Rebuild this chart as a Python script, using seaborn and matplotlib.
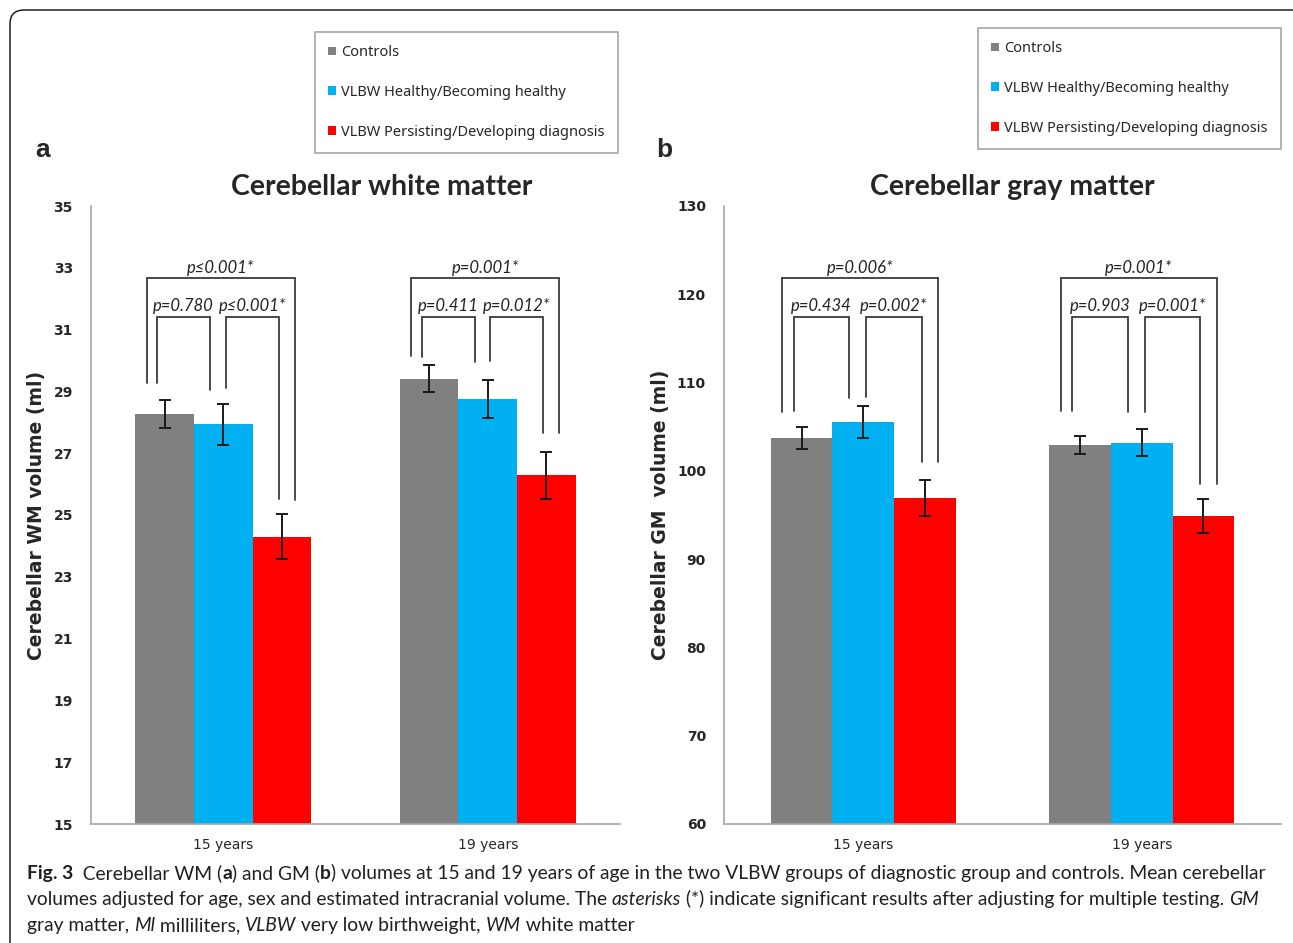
import pandas as pd
import seaborn as sns
import matplotlib.pyplot as plt
from matplotlib.patches import Patch, FancyBboxPatch
from matplotlib.transforms import IdentityTransform

# Categories
ages = ["15 years", "19 years"]
groups = ["Controls", "VLBW Healthy/Becoming healthy", "VLBW Persisting/Developing diagnosis"]
colors = ["#808080", "#00B0F0", "#FF0000"]

# Cerebellar white matter (ml), 15 and 19 years
wm_controls = [28.26, 29.41]
wm_healthy = [27.94, 28.76]
wm_persist = [24.30, 26.29]
wm_err_controls = [0.45, 0.43]
wm_err_healthy = [0.66, 0.62]
wm_err_persist = [0.73, 0.76]

# Cerebellar gray matter (ml), 15 and 19 years
gm_controls = [103.75, 102.93]
gm_healthy = [105.55, 103.20]
gm_persist = [96.89, 94.92]
gm_err_controls = [1.25, 1.07]
gm_err_healthy = [1.85, 1.57]
gm_err_persist = [2.04, 1.92]

# p-values: controls vs healthy, healthy vs persisting, controls vs persisting
wm_p = [["p=0.780", "p≤0.001*", "p≤0.001*"],
        ["p=0.411", "p=0.012*", "p=0.001*"]]
gm_p = [["p=0.434", "p=0.002*", "p=0.006*"],
        ["p=0.903", "p=0.001*", "p=0.001*"]]

W, H = 1293, 943
fig = plt.figure(figsize=(W / 100, H / 100), dpi=100)
sns.set_style("white")
plt.rcParams['font.family'] = ['DejaVu Sans']

label_font = ['Noto Sans', 'DejaVu Sans']
p_font = ['Lato', 'DejaVu Sans']
cap_font = ['Lato', 'DejaVu Sans']


def long_df(ctrl, healthy, persist):
    rows = []
    for g, vals in zip(groups, [ctrl, healthy, persist]):
        for a, v in zip(ages, vals):
            rows.append({"age": a, "group": g, "value": v})
    return pd.DataFrame(rows)


def brackets(ax, pvals, inner_top, outer_top, legs):
    # leg x offsets from the category centre (category units)
    dx = [-0.29, -0.25, -0.05, 0.01, 0.21, 0.27]
    kw = dict(color="#3a3a3a", lw=1.3, solid_joinstyle="miter")
    for i in range(len(ages)):
        xs = [i + d for d in dx]
        lb = legs[i]
        ax.plot([xs[1], xs[1], xs[2], xs[2]], [lb[1], inner_top, inner_top, lb[2]], **kw)
        ax.plot([xs[3], xs[3], xs[4], xs[4]], [lb[3], inner_top, inner_top, lb[4]], **kw)
        ax.plot([xs[0], xs[0], xs[5], xs[5]], [lb[0], outer_top, outer_top, lb[5]], **kw)
        for (xa, xb), yy, txt in [((xs[1], xs[2]), inner_top, pvals[i][0]),
                                  ((xs[3], xs[4]), inner_top, pvals[i][1]),
                                  ((xs[0], xs[5]), outer_top, pvals[i][2])]:
            ax.annotate(txt, ((xa + xb) / 2, yy), xytext=(0, 2), textcoords="offset points",
                        ha="center", va="bottom", fontsize=12, fontstyle="italic",
                        family=p_font, color="#222222")


def panel(rect, df, errs, ylim, yticks, title, title_x, ylabel):
    ax = fig.add_axes(rect)
    sns.barplot(data=df, x="age", y="value", hue="group", hue_order=groups,
                palette=colors, width=0.665, saturation=1, errorbar=None,
                linewidth=0, legend=False, ax=ax)
    for cont, err in zip(ax.containers, errs):
        xs = [b.get_x() + b.get_width() / 2 for b in cont]
        ys = [b.get_height() for b in cont]
        ax.errorbar(xs, ys, yerr=err, fmt="none", ecolor="#1a1a1a",
                    elinewidth=1.4, capsize=4, capthick=1.4)
    ax.set_ylim(*ylim)
    ax.set_yticks(yticks)
    ax.set_xlim(-0.5, 1.5)
    ax.set_xticks([-0.5, 0.5, 1.5], minor=True)
    ax.tick_params(axis="x", which="major", length=0, labelsize=10, pad=10)
    ax.tick_params(axis="x", which="minor", length=6, width=1.2, color="#A6A6A6", direction="out")
    ax.tick_params(axis="y", length=5, width=1.2, color="#A6A6A6", direction="out",
                   labelsize=10, pad=8)
    for lab in ax.get_yticklabels():
        lab.set_fontweight("semibold")
    ax.set_xlabel("")
    ax.set_ylabel(ylabel, fontsize=13.5, fontweight="bold", family=['DejaVu Sans'], labelpad=5)
    sns.despine(ax=ax)
    for s in ["left", "bottom"]:
        ax.spines[s].set_color("#A6A6A6")
        ax.spines[s].set_linewidth(1.2)
    ax.set_title(title, x=title_x, fontsize=20.5, fontweight="bold",
                 family=['Lato', 'DejaVu Sans'], pad=8)
    return ax


ax_a = panel([91 / W, 1 - 824 / H, 529 / W, 618 / H],
             long_df(wm_controls, wm_healthy, wm_persist),
             [wm_err_controls, wm_err_healthy, wm_err_persist],
             (15, 35), range(15, 36, 2), "Cerebellar white matter", 0.55,
             "Cerebellar WM volume (ml)")
brackets(ax_a, wm_p, 31.41, 32.66,
         [[29.28, 29.28, 29.06, 29.10, 25.53, 25.50],
          [30.15, 30.12, 29.96, 29.98, 27.66, 27.66]])

ax_b = panel([724 / W, 1 - 824 / H, 557 / W, 618 / H],
             long_df(gm_controls, gm_healthy, gm_persist),
             [gm_err_controls, gm_err_healthy, gm_err_persist],
             (60, 130), range(60, 131, 10), "Cerebellar gray matter", 0.518,
             "Cerebellar GM  volume (ml)")
brackets(ax_b, gm_p, 117.4, 121.8,
         [[106.7, 106.8, 108.3, 108.4, 101.0, 101.0],
          [106.8, 106.8, 106.7, 106.7, 98.5, 98.5]])

# panel letters
fig.text(35 / W, 1 - 150 / H, "a", fontsize=19, fontweight="bold", family=['Liberation Sans'], va="center")
fig.text(656 / W, 1 - 150 / H, "b", fontsize=19, fontweight="bold", family=['Liberation Sans'], va="center")

# legends
handles = [Patch(facecolor=c, edgecolor="none") for c in colors]
for x0, y0 in [(315, 32), (978, 28)]:
    leg = fig.legend(handles, groups, loc="upper left", bbox_to_anchor=(x0 / W, 1 - y0 / H),
                     frameon=True, fancybox=False, framealpha=1, edgecolor="#A6A6A6",
                     prop={"family": label_font, "size": 10.5}, labelspacing=1.7,
                     handlelength=0.55, handleheight=0.55, handletextpad=0.35,
                     borderpad=0.9, borderaxespad=0)
    leg.get_frame().set_linewidth(1.2)

# outer frame
fig.patches.append(FancyBboxPatch((10, -60), W + 40, H - 10 + 60,
                                  boxstyle="round,pad=0,rounding_size=14",
                                  transform=IdentityTransform(), facecolor="none",
                                  edgecolor="#222222", lw=1.1))

# caption with mixed styles
renderer = fig.canvas.get_renderer()


def text_width(s, size, weight, style):
    t = fig.text(0, 0, s + "|", fontsize=size, family=cap_font, fontweight=weight, fontstyle=style)
    w1 = t.get_window_extent(renderer).width
    t.set_text("|")
    w2 = t.get_window_extent(renderer).width
    t.remove()
    return w1 - w2


def rich_line(x, y, parts, size=13.9):
    for s, st in parts:
        weight = "bold" if st == "b" else "normal"
        style = "italic" if st == "i" else "normal"
        fig.text(x / W, 1 - y / H, s, fontsize=size, family=cap_font, fontweight=weight,
                 fontstyle=style, va="baseline", ha="left", color="#231F20")
        x += text_width(s, size, weight, style)


rich_line(27, 879, [("Fig. 3", "b"), ("  Cerebellar WM (", "n"), ("a", "b"), (") and GM (", "n"),
                    ("b", "b"), (") volumes at 15 and 19 years of age in the two VLBW groups of diagnostic group and controls. Mean cerebellar", "n")])
rich_line(27, 905, [("volumes adjusted for age, sex and estimated intracranial volume. The ", "n"), ("asterisks", "i"),
                    (" (*) indicate significant results after adjusting for multiple testing. ", "n"), ("GM", "i")])
rich_line(27, 931, [("gray matter, ", "n"), ("Ml", "i"), (" milliliters, ", "n"), ("VLBW", "i"),
                    (" very low birthweight, ", "n"), ("WM", "i"), (" white matter", "n")])

plt.savefig("out.png", dpi=100)
